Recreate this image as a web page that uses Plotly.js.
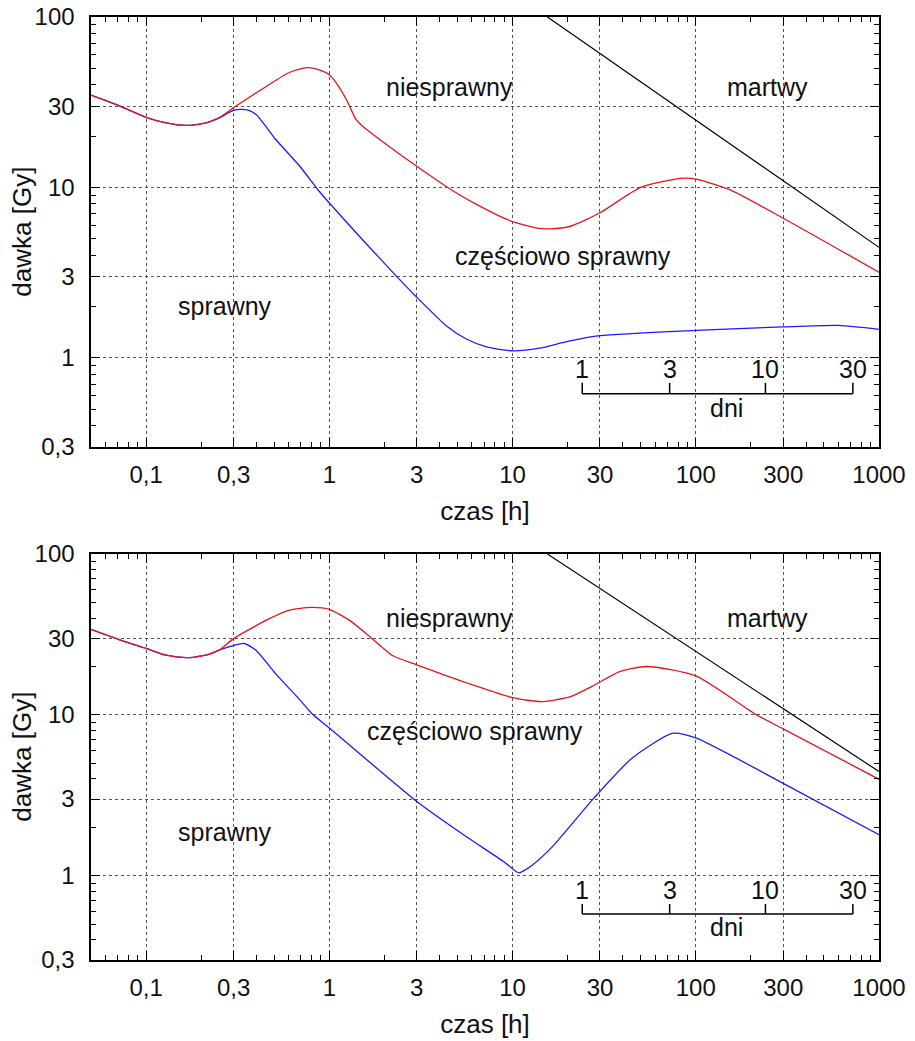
<!DOCTYPE html>
<html>
<head>
<meta charset="utf-8">
<script src="https://cdn.plot.ly/plotly-3.0.1.min.js"></script>
<style>
  html, body { margin: 0; padding: 0; background: #fff; }
  #chart { width: 915px; height: 1041px; }
</style>
</head>
<body>
<div id="chart"></div>
<script>
// ---------- data ----------
const xTicks = [0.1, 0.3, 1, 3, 10, 30, 100, 300, 1000];
const xTickText = ['0,1', '0,3', '1', '3', '10', '30', '100', '300', '1000'];
const xMinor = [0.06, 0.07, 0.08, 0.09, 0.2, 0.4, 0.5, 0.6, 0.7, 0.8, 0.9,
                2, 4, 5, 6, 7, 8, 9, 20, 40, 50, 60, 70, 80, 90,
                200, 400, 500, 600, 700, 800, 900];
const yTicks = [0.3, 1, 3, 10, 30, 100];
const yTickText = ['0,3', '1', '3', '10', '30', '100'];
const yMinor = [0.4, 0.5, 0.6, 0.7, 0.8, 0.9, 2, 4, 5, 6, 7, 8, 9, 20, 40, 50, 60, 70, 80, 90];

// upper panel
const topRedX  = [0.05, 0.071, 0.1, 0.1285, 0.165, 0.212, 0.25, 0.3, 0.45, 0.6, 0.75, 0.88, 1.0, 1.09, 1.24, 1.4, 1.55, 2.12, 3, 4.36, 6.35, 10, 14, 16, 20.5, 30, 50, 82, 100, 153, 300, 1000];
const topRedY  = [34.8, 30.2, 25.8, 23.9, 23.1, 23.9, 25.6, 29.4, 39, 47.1, 50.4, 49, 45.8, 41.1, 32.7, 25, 22.5, 17.4, 13.3, 10.1, 7.96, 6.3, 5.75, 5.72, 5.9, 7.1, 10, 11.3, 11.2, 9.7, 6.6, 3.18];
const topBlueX = [0.05, 0.071, 0.1, 0.1285, 0.165, 0.212, 0.25, 0.3, 0.33, 0.36, 0.4, 0.51, 0.686, 0.88, 1.0, 1.5, 2.32, 3, 4.36, 5.6, 7.2, 10, 14, 20, 30, 100, 300, 600, 1000];
const topBlueY = [34.8, 30.2, 25.8, 23.9, 23.1, 23.9, 25.6, 28.3, 28.7, 28.4, 26.7, 19.1, 13.4, 9.5, 8.1, 5.0, 3.02, 2.27, 1.54, 1.29, 1.16, 1.1, 1.14, 1.25, 1.35, 1.45, 1.52, 1.55, 1.47];

// lower panel
const botRedX  = [0.05, 0.071, 0.1, 0.1285, 0.165, 0.212, 0.25, 0.3, 0.45, 0.6, 0.8, 1.0, 1.29, 1.69, 2.21, 3, 5.6, 10, 14.4, 20.5, 27, 38.4, 54, 100, 215, 300, 1000];
const botRedY  = [34, 29.4, 25.9, 23.5, 22.7, 23.5, 25.3, 29.8, 38.7, 44.7, 46.6, 45.3, 38.7, 30.2, 23.4, 20.5, 15.85, 12.8, 12.1, 12.95, 15, 18.6, 20, 17.5, 10, 8.2, 3.98];
const botBlueX = [0.05, 0.071, 0.1, 0.1285, 0.165, 0.212, 0.25, 0.3, 0.343, 0.4, 0.51, 0.686, 0.81, 1.0, 3, 5.6, 9, 10.5, 10.9, 11.4, 12.85, 16.5, 27.4, 45, 75, 100, 300, 1000];
const botBlueY = [34, 29.4, 25.9, 23.5, 22.7, 23.5, 25.3, 27.0, 27.8, 25.1, 18.0, 12.5, 10.1, 8.3, 2.9, 1.75, 1.22, 1.06, 1.045, 1.07, 1.17, 1.52, 2.99, 5.4, 7.7, 7.2, 3.76, 1.8];

// lethal boundary ("martwy")
const deadX = [15.5, 1000];
const deadY = [100, 4.45];

// day scale
const dayTicks = [1, 3, 10, 30];
const dayLabels = ['1', '3', '10', '30'];
const HOURS_PER_DAY = 24;

// ---------- drawing ----------
const FONT = '"Liberation Sans", Arial, Helvetica, sans-serif';
const RED = '#e8141c', BLUE = '#1a1aff';

function curve(x, y, color, xa, ya) {
  return { x: x, y: y, xaxis: xa, yaxis: ya, type: 'scatter', mode: 'lines',
           line: { color: color, width: 1.3, shape: 'spline', smoothing: 0.6 },
           hoverinfo: 'skip', showlegend: false };
}
function straight(x, y, xa, ya) {
  return { x: x, y: y, xaxis: xa, yaxis: ya, type: 'scatter', mode: 'lines',
           line: { color: 'black', width: 1.2 }, hoverinfo: 'skip', showlegend: false };
}
function bracket(xa, ya, yBase, yTop) {
  const xs = [], ys = [];
  xs.push(dayTicks[0] * HOURS_PER_DAY, dayTicks[dayTicks.length - 1] * HOURS_PER_DAY, null);
  ys.push(yBase, yBase, null);
  dayTicks.forEach(d => { xs.push(d * HOURS_PER_DAY, d * HOURS_PER_DAY, null); ys.push(yBase, yTop, null); });
  return { x: xs, y: ys, xaxis: xa, yaxis: ya, type: 'scatter', mode: 'lines',
           line: { color: 'black', width: 1.5 }, hoverinfo: 'skip', showlegend: false };
}

const traces = [
  straight(deadX, deadY, 'x', 'y'),
  curve(topBlueX, topBlueY, BLUE, 'x', 'y'),
  curve(topRedX, topRedY, RED, 'x', 'y'),
  bracket('x', 'y', 0.615, 0.714),
  straight(deadX, deadY, 'x2', 'y2'),
  curve(botBlueX, botBlueY, BLUE, 'x2', 'y2'),
  curve(botRedX, botRedY, RED, 'x2', 'y2'),
  bracket('x2', 'y2', 0.58, 0.668)
];

function xAxis(anchor) {
  return {
    type: 'log', range: [Math.log10(0.05), 3], anchor: anchor, domain: [0, 1],
    tickmode: 'array', tickvals: xTicks, ticktext: xTickText,
    ticks: 'inside', ticklen: 9, tickwidth: 1, tickcolor: 'black',
    showline: true, linecolor: 'black', linewidth: 1.6, mirror: 'allticks',
    showgrid: true, gridcolor: '#555', gridwidth: 1, griddash: 'dot',
    zeroline: false, fixedrange: true,
    tickfont: { family: FONT, size: 24, color: '#111' },
    ticklabelstandoff: 6,
    minor: { tickmode: 'array', tickvals: xMinor, ticks: 'inside', ticklen: 5,
             tickwidth: 1, tickcolor: 'black', showgrid: false },
    title: { text: 'czas [h]', font: { family: FONT, size: 26, color: '#111' }, standoff: 14 }
  };
}
function yAxis(anchor, domain) {
  return {
    type: 'log', range: [Math.log10(0.3), 2], anchor: anchor, domain: domain,
    tickmode: 'array', tickvals: yTicks, ticktext: yTickText,
    ticks: 'inside', ticklen: 9, tickwidth: 1, tickcolor: 'black',
    showline: true, linecolor: 'black', linewidth: 1.6, mirror: 'allticks',
    showgrid: true, gridcolor: '#555', gridwidth: 1, griddash: 'dot',
    zeroline: false, fixedrange: true,
    tickfont: { family: FONT, size: 24, color: '#111' },
    ticklabelstandoff: 10,
    minor: { tickmode: 'array', tickvals: yMinor, ticks: 'inside', ticklen: 5,
             tickwidth: 1, tickcolor: 'black', showgrid: false }
  };
}

function label(text, xv, yv, xa, ya) {
  return { text: text, x: Math.log10(xv), y: Math.log10(yv), xref: xa, yref: ya,
           showarrow: false, xanchor: 'center', yanchor: 'middle',
           font: { family: FONT, size: 25, color: '#111' } };
}
function yTitle(domain) {
  return { text: 'dawka [Gy]', textangle: -90, xref: 'paper', yref: 'paper',
           x: -0.088, y: (domain[0] + domain[1]) / 2, xanchor: 'center', yanchor: 'middle',
           showarrow: false, font: { family: FONT, size: 26, color: '#111' } };
}

const topDomain = [0.544, 1];
const botDomain = [0, 0.4305];

const annotations = [
  yTitle(topDomain),
  yTitle(botDomain),
  label('niesprawny', 4.52, 39, 'x', 'y'),
  label('martwy', 247, 39, 'x', 'y'),
  label('częściowo sprawny', 18.8, 3.94, 'x', 'y'),
  label('sprawny', 0.27, 2.01, 'x', 'y'),
  label('niesprawny', 4.52, 39.8, 'x2', 'y2'),
  label('martwy', 247, 39.8, 'x2', 'y2'),
  label('częściowo sprawny', 6.27, 7.94, 'x2', 'y2'),
  label('sprawny', 0.27, 1.88, 'x2', 'y2'),
  label('dni', 147, 0.51, 'x', 'y'),
  label('dni', 147, 0.48, 'x2', 'y2')
];
dayTicks.forEach((d, i) => {
  annotations.push(label(dayLabels[i], d * HOURS_PER_DAY, 0.86, 'x', 'y'));
  annotations.push(label(dayLabels[i], d * HOURS_PER_DAY, 0.82, 'x2', 'y2'));
});

const layout = {
  width: 915, height: 1041,
  margin: { l: 91, r: 36, t: 17, b: 81 },
  paper_bgcolor: 'white', plot_bgcolor: 'white',
  showlegend: false,
  font: { family: FONT, size: 24, color: '#111' },
  xaxis: xAxis('y'),
  yaxis: yAxis('x', topDomain),
  xaxis2: xAxis('y2'),
  yaxis2: yAxis('x2', botDomain),
  annotations: annotations
};

Plotly.newPlot('chart', traces, layout, { displayModeBar: false, staticPlot: true });
</script>
</body>
</html>
